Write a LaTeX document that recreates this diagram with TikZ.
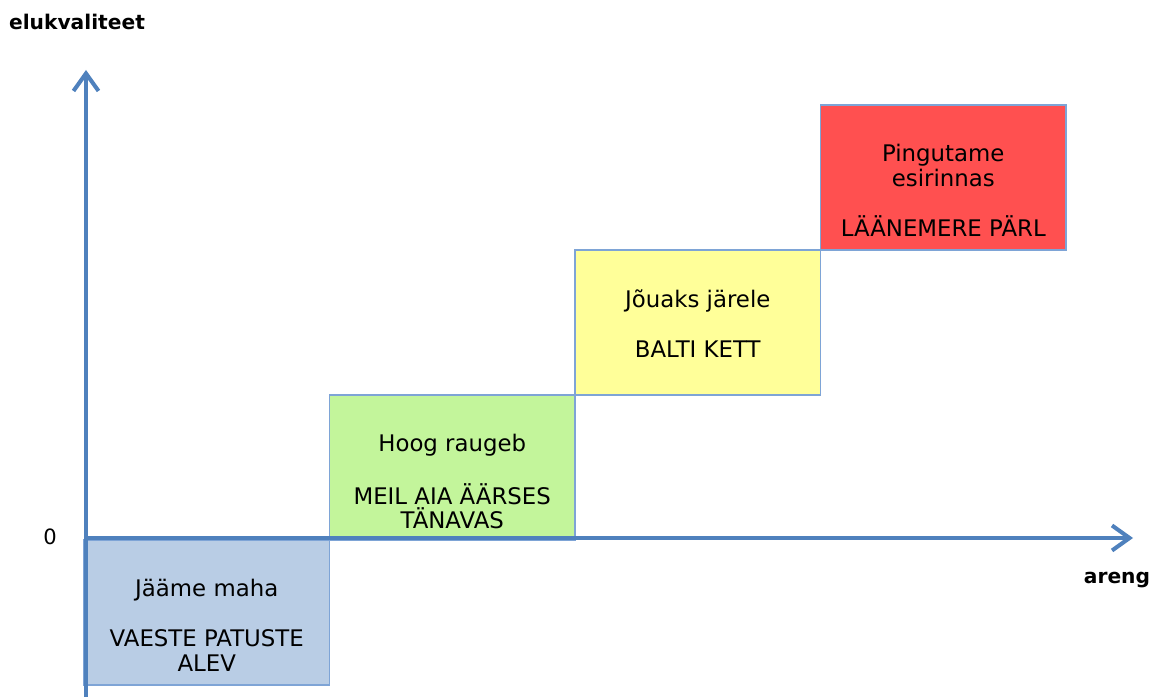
\documentclass[tikz,border=0pt]{standalone}
\usepackage{fontspec}
\setmainfont{DejaVu Sans}
\usepackage{tikz}
\usetikzlibrary{arrows.meta,positioning}
\definecolor{axisblue}{HTML}{4F81BD}
\definecolor{boxedge}{HTML}{7EA4D6}
\definecolor{bluefill}{HTML}{B9CDE5}
\definecolor{greenfill}{HTML}{C3F59B}
\definecolor{yellowfill}{HTML}{FFFF99}
\definecolor{redfill}{HTML}{FF5050}
\tikzset{
	stepbox/.style={draw=boxedge, line width=0.7pt, minimum width=4.91cm, minimum height=2.9cm, inner sep=0pt, outer sep=0pt, anchor=south west},
	steptext/.style={align=center, inner sep=0pt, font=\fontsize{13}{14.2}\selectfont},
	axislabel/.style={font=\fontsize{11.5}{13}\selectfont\bfseries},
	axisline/.style={axisblue, line width=2.3pt, -{Straight Barb[length=3.5mm,width=5mm]}}
}

\begin{document}
\begin{tikzpicture}
	\useasboundingbox (0,0) rectangle (23.06,13.94);
	
	% the four steps
	\node[stepbox, fill=bluefill, line width=1pt] (alev) at (1.68,0.24) {};
	\node[stepbox, fill=greenfill] (tanav) at (alev.north east) {};
	\node[stepbox, fill=yellowfill] (kett) at (tanav.north east) {};
	\node[stepbox, fill=redfill] (parl) at (kett.north east) {};
	
	\node[steptext, below=0.78cm of alev.north] (alevtext) {Jääme maha\\[14.2pt] VAESTE PATUSTE\\ ALEV};
	\node[steptext, below=0.78cm of tanav.north] (tanavtext) {Hoog raugeb\\[14.2pt] MEIL AIA ÄÄRSES\\ TÄNAVAS};
	\node[steptext, below=0.78cm of kett.north] (kettext) {Jõuaks järele\\[14.2pt] BALTI KETT};
	\node[steptext, below=0.78cm of parl.north] (parltext) {Pingutame\\ esirinnas\\[14.2pt] LÄÄNEMERE PÄRL};
	
	% axes
	\coordinate (origin) at (1.72,3.18);
	\coordinate (ybottom) at (1.72,0);
	\coordinate (ytop) at (1.72,12.54);
	\coordinate (xend) at (22.66,3.18);
	\draw[axisline] (ybottom) -- (ytop);
	\draw[axisline] (origin) -- (xend);
	
	\node[axislabel] (ylabel) at (1.54,13.5) {elukvaliteet};
	\node[axislabel] (xlabel) at (22.34,2.34) {areng};
	\node[font=\fontsize{12}{13}\selectfont] (zero) at (1.0,3.2) {0};
\end{tikzpicture}
\end{document}
